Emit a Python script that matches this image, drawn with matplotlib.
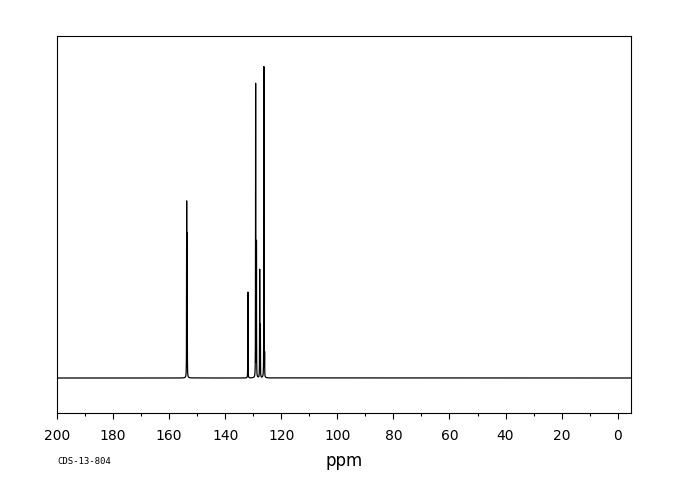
import numpy as np
import matplotlib
matplotlib.use("Agg")
import matplotlib.pyplot as plt

# Peak list (chemical shift in ppm, relative intensity)
peak_ppm = [153.75, 153.55, 131.9, 129.15, 128.85, 127.7, 127.45, 126.2, 125.95]
peak_int = [174, 142, 86, 294, 135, 108, 52, 311, 22]
x_major = [200, 180, 160, 140, 120, 100, 80, 60, 40, 20, 0]
x_labels = ["200", "180", "160", "140", "120", "100", "80", "60", "40", "20", "0"]
sample_id = "CDS-13-804"

fig = plt.figure(figsize=(6.8, 5.0), dpi=100)
ax = fig.add_axes([57/680, 1 - 412.7/500, (631-57)/680, (412.7-36)/500])

# render the spectrum as a sum of narrow Lorentzian lines
x = np.linspace(-4.75, 200, 60000)
y = np.zeros_like(x)
hw = 0.03
for p, h in zip(peak_ppm, peak_int):
    y += h * hw**2 / ((x - p)**2 + hw**2)
ax.plot(x, y, color="black", lw=0.9)

ax.set_xlim(200, -4.75)
ax.set_ylim(-34.7, 342)
ax.set_yticks([])
ax.set_xticks(x_major)
ax.set_xticklabels(x_labels, fontsize=10)
ax.set_xticks(np.arange(10, 200, 20), minor=True)
ax.tick_params(axis="x", which="major", direction="out", length=4, width=0.8, pad=8)
ax.tick_params(axis="x", which="minor", direction="out", length=2.5, width=0.8)
for s in ax.spines.values():
    s.set_linewidth(0.8)
ax.set_xlabel("ppm", fontsize=12, labelpad=6)
fig.text(57/680, 1 - 462/500, sample_id, fontsize=6.5, family="DejaVu Sans Mono", va="center", ha="left")

fig.savefig("out.png", dpi=100)
